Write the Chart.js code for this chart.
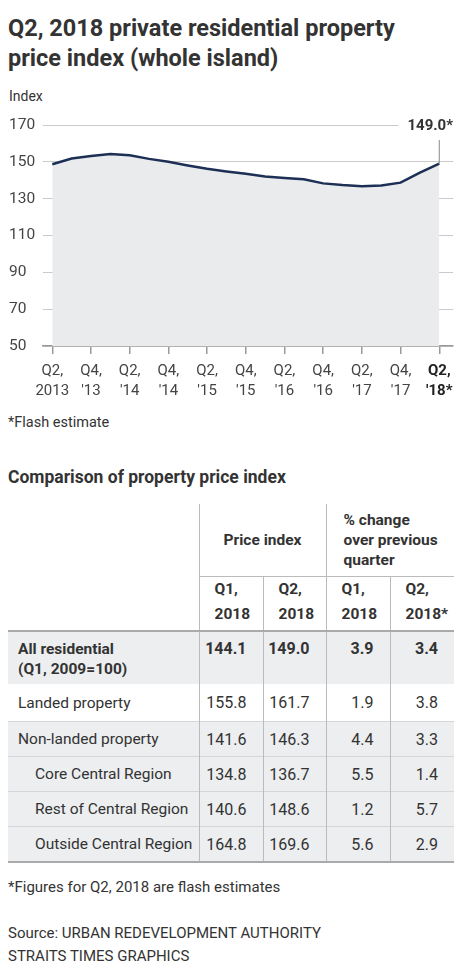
<!DOCTYPE html>
<html>
<head>
<meta charset="utf-8">
<script src="https://cdn.jsdelivr.net/npm/chart.js@4.4.1/dist/chart.umd.min.js"></script>
<style>
  body { margin: 0; background: #fff; font-family: Roboto, "Liberation Sans", sans-serif; color: #333; }
  #page { position: relative; width: 462px; height: 978px; overflow: hidden; }
  .title { position: absolute; left: 8px; top: 13px; font-size: 23.5px; font-weight: 700; line-height: 30px; color: #333; }
  .unit { position: absolute; left: 9px; top: 88px; font-size: 14px; color: #333; }
  #chartBox { position: absolute; left: 0; top: 105px; width: 462px; height: 301px; }
  .note { position: absolute; left: 8px; font-size: 14.5px; color: #333; }
  .sub { position: absolute; left: 8px; top: 467px; font-size: 17.5px; font-weight: 700; color: #333; }
  table { position: absolute; left: 8px; top: 504px; width: 446px; border-collapse: collapse; table-layout: fixed; font-size: 15.5px; color: #333; }
  td { padding: 0; }
  td.v { text-align: right; padding-right: 16px; font-size: 16px; }
  td.lab { padding-left: 10px; }
  td.ind { padding-left: 27px; }
  .hd1 td { height: 72px; font-weight: 700; line-height: 20px; }
  .hd2 td { height: 53px; font-weight: 700; line-height: 25px; vertical-align: top; padding-left: 15px; border-top: 1px solid #bbb; }
  .grey { background: #eceef0; }
  .vl { border-left: 1px solid #bbb; }
  tr.r td { height: 34px; border-top: 1px solid #d4d6d9; }
</style>
</head>
<body>
<div id="page">
  <div class="title">Q2, 2018 private residential property<br>price index (whole island)</div>
  <div class="unit">Index</div>
  <div id="chartBox"><canvas id="myChart"></canvas></div>
  <div class="note" style="top:414px">*Flash estimate</div>
  <div class="sub">Comparison of property price index</div>
  <table id="tbl"></table>
  <div class="note" style="top:878px;font-size:15px">*Figures for Q2, 2018 are flash estimates</div>
  <div class="note" style="top:922px;font-size:15px;line-height:23px">Source: URBAN REDEVELOPMENT AUTHORITY<br>STRAITS TIMES GRAPHICS</div>
</div>
<script>
// quarterly index, Q2 2013 .. Q2 2018 (last one is flash estimate)
const quarters = ["Q2 2013", "Q3 2013", "Q4 2013", "Q1 2014", "Q2 2014", "Q3 2014", "Q4 2014",
  "Q1 2015", "Q2 2015", "Q3 2015", "Q4 2015", "Q1 2016", "Q2 2016", "Q3 2016", "Q4 2016",
  "Q1 2017", "Q2 2017", "Q3 2017", "Q4 2017", "Q1 2018", "Q2 2018"];
const indexValues = [148.7, 151.8, 153.2, 154.3, 153.6, 151.6, 150.0, 148.0, 146.2, 144.8, 143.5,
  142.1, 141.2, 140.5, 138.3, 137.4, 136.8, 137.1, 138.7, 144.1, 149.0];
const tickLabels = [["Q2,", "2013"], ["Q4,", "'13"], ["Q2,", "'14"], ["Q4,", "'14"], ["Q2,", "'15"],
  ["Q4,", "'15"], ["Q2,", "'16"], ["Q4,", "'16"], ["Q2,", "'17"], ["Q4,", "'17"], ["Q2,", "'18*"]];
const yTicks = [50, 70, 90, 110, 130, 150, 170];

// table data
const rowNames = ["All residential", "Landed property", "Non-landed property",
  "Core Central Region", "Rest of Central Region", "Outside Central Region"];
const priceQ1 = ["144.1", "155.8", "141.6", "134.8", "140.6", "164.8"];
const priceQ2 = ["149.0", "161.7", "146.3", "136.7", "148.6", "169.6"];
const changeQ1 = ["3.9", "1.9", "4.4", "5.5", "1.2", "5.6"];
const changeQ2 = ["3.4", "3.8", "3.3", "1.4", "5.7", "2.9"];

const points = indexValues.map((v, i) => ({ x: i, y: v }));

// label + leader line for the last point
const lastLabel = {
  id: "lastLabel",
  afterDatasetsDraw(chart) {
    const ctx = chart.ctx;
    const meta = chart.getDatasetMeta(0);
    const pt = meta.data[meta.data.length - 1];
    const yTop = chart.scales.y.getPixelForValue(170);
    const txt = indexValues[indexValues.length - 1].toFixed(1) + "*";
    ctx.save();
    ctx.font = "bold 15px Roboto";
    const w = ctx.measureText(txt).width;
    const right = chart.chartArea.right;
    ctx.fillStyle = "#fff";
    ctx.fillRect(right - w - 9, yTop - 10, w + 10, 20);
    ctx.fillStyle = "#333";
    ctx.textAlign = "right";
    ctx.textBaseline = "middle";
    ctx.fillText(txt, right, yTop + 1);
    ctx.strokeStyle = "#888";
    ctx.lineWidth = 1;
    ctx.beginPath();
    ctx.moveTo(pt.x, yTop + 15);
    ctx.lineTo(pt.x, pt.y);
    ctx.stroke();
    ctx.restore();
  }
};

new Chart(document.getElementById("myChart"), {
  type: "line",
  data: {
    datasets: [{
      data: points,
      borderColor: "#1d2f55",
      borderWidth: 2.5,
      backgroundColor: "#e9ebed",
      fill: "start",
      pointRadius: 0,
      tension: 0
    }]
  },
  options: {
    responsive: true,
    maintainAspectRatio: false,
    animation: false,
    layout: { padding: { left: 9, right: 9, top: 20, bottom: 0 } },
    plugins: { legend: { display: false }, tooltip: { enabled: false } },
    scales: {
      x: {
        type: "linear",
        min: -0.48,
        max: 20.71,
        afterBuildTicks: (s) => { s.ticks = tickLabels.map((t, i) => ({ value: i * 2 })); },
        afterFit: (s) => { s.height = 60; },
        grid: { drawOnChartArea: false, drawTicks: true, tickLength: 8, color: "#999", lineWidth: 1.5 },
        border: { color: "#999", width: 1.5 },
        ticks: {
          autoSkip: false,
          maxRotation: 0,
          padding: 7,
          color: (c) => c.index === tickLabels.length - 1 ? "#222" : "#444",
          font: (c) => ({ family: "Roboto", size: 15, lineHeight: "20px", weight: c.index === tickLabels.length - 1 ? "bold" : "normal" }),
          callback: (v) => tickLabels[Math.round(v / 2)]
        }
      },
      y: {
        min: 50,
        max: 170,
        afterBuildTicks: (s) => { s.ticks = yTicks.map((v) => ({ value: v })); },
        afterFit: (s) => { s.width = 34; },
        grid: { color: "#cacaca", lineWidth: 1, drawTicks: false },
        border: { display: false },
        ticks: { crossAlign: "far", color: "#444", font: { family: "Roboto", size: 15.5 } }
      }
    }
  },
  plugins: [lastLabel]
});

// build the comparison table
const tbl = document.getElementById("tbl");
let html = '<colgroup><col style="width:191px"><col style="width:64px"><col style="width:63px"><col style="width:64px"><col style="width:64px"></colgroup>';
html += '<tr class="hd1"><td></td><td class="vl" colspan="2" style="text-align:center">Price index</td>' +
  '<td class="vl" colspan="2" style="padding-left:17px">% change<br>over previous<br>quarter</td></tr>';
html += '<tr class="hd2"><td style="border-top:none"></td><td class="vl">Q1,<br>2018</td><td class="vl">Q2,<br>2018</td>' +
  '<td class="vl">Q1,<br>2018</td><td class="vl">Q2,<br>2018*</td></tr>';
rowNames.forEach((name, i) => {
  const bg = i === 1 ? "" : "grey";
  if (i === 0) {
    html += '<tr class="' + bg + '" style="font-weight:700;border-top:2px solid #aaa">' +
      '<td class="lab" style="height:45px;vertical-align:top;padding-top:7px;line-height:20px">' + name + '<br>(Q1, 2009=100)</td>';
    [priceQ1, priceQ2, changeQ1, changeQ2].forEach((arr) => {
      html += '<td class="v vl" style="vertical-align:top;padding-top:7px;line-height:20px">' + arr[i] + '</td>';
    });
    html += '</tr>';
  } else {
    const cls = i >= 3 ? "ind" : "lab";
    const h = i === 1 ? 37 : 34;
    const noTop = i === 1 ? ";border-top:none" : "";
    html += '<tr class="r ' + bg + '"><td class="' + cls + '" style="height:' + h + 'px' + noTop + '">' + name + '</td>';
    [priceQ1, priceQ2, changeQ1, changeQ2].forEach((arr) => {
      html += '<td class="v vl" style="height:' + h + 'px' + noTop + '">' + arr[i] + '</td>';
    });
    html += '</tr>';
  }
});
tbl.innerHTML = html;
tbl.style.borderBottom = "2px solid #aaa";
</script>
</body>
</html>
